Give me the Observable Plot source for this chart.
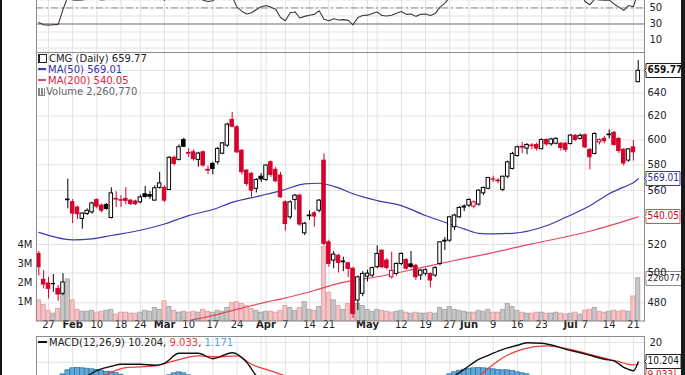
<!DOCTYPE html>
<html><head><meta charset="utf-8">
<script src="https://cdn.jsdelivr.net/npm/d3@7"></script>
<script src="https://cdn.jsdelivr.net/npm/@observablehq/plot@0.6"></script>
<style>
body{margin:0;background:#fff;}
#chart{position:relative;width:685px;height:375px;overflow:hidden;background:#fff;font-family:'DejaVu Sans',Verdana,sans-serif;}
.lg{position:absolute;font-size:10px;line-height:11px;white-space:nowrap;}
.dash{display:inline-block;width:8px;height:2px;vertical-align:middle;margin-right:2px;position:relative;top:-1px;}
</style></head><body>
<div id="chart"></div>
<script>
// ---------- DATA (trading-day index 0 = 23 Jan, 124 = 22 Jul) ----------
const opens = [513.3,495.4,492.9,492.4,489.3,486,553,551,547,538.5, 542.2,543.4,552.7,548.4,548.8,539.2,553.5,552.5,553.5,552.2, 551.5,550.9,557,556.4,552.2,561.9,561.9,560.3,585.6,583.9, 600,589.5,590,583.9,590,576,580.7,582,588.9,595.4, 616.8,610.6,591.3,575.4,572.8,561.2,570.6,568.1,582,576, 571.5,550.9,539.7,552.7,556,528,540.5,542.6,544.6,583.3, 521.5,508.6,512,507.5,506.8,503,481.5,486,497.5,498.3, 504,515.6,508.6,497.1,499.4,506.3,509,506,505,498.3, 499.5,499.4,498.3,506.3,522,522.7,532.4,539.7,547,548.4, 547.7,549.2,557.7,561.2,568.5,567.5,560.4,570.6,576.7,587, 594.5,593,595.5,596,592.5,600,596.5,597,597,597, 596.7,603.5,601,604,592,588.7,598,601,604,606, 601,592,583.3,594,649.5];
const highs = [515,501.7,497,499,491.5,499.6,568.8,553,548,543, 546,551,553.5,549.5,550,562,559,556,562,553, 552.5,556.4,563,559,563.6,574.1,563.6,586.5,587,596, 601.5,593,592,590,591,579,582,594,598,614, 623.2,612,592,576,574,569,573,580,583,578, 574,552,552,557,557,536,544.6,544,553,588.7, 523,515,513,511,507,504,498,501,502,504, 519,516,510,514.5,507,514,510,515,506,502.5, 503,500,504.5,522,525,540.5,542,547.7,549,553.5, 552,560.5,562.5,570,571,569,571,583,590,595, 598,597,597,597.5,601,601,601.5,602,598,598, 604.5,604.5,605,605,593,606,601,603,608.4,607, 602,593,593,599.6,669];
const lows = [498,489.3,482.6,487,481,484.8,546,535,538,531, 541,542,546,543,545,538.5,547,547,549,548.5, 548.5,549.7,554,553,552,561,550.9,559.8,579,583, 594,586,583,578,578,572.3,572,580,588,594, 610,589,572,563,554.7,558,566,567,570,566, 554,529.5,538,545,533,526.4,537.3,532.4,543,519, 504,503,500,501,497,470,475,484,494,497, 503,503,502,496,498,505,502,503,495,494.9, 498,490,497,505,515.6,521.5,530,539,544,547, 546,548,556,560.5,566,565,559,569,576,586, 589,588,592,591,592,595,595,596,591,590, 596,599,600,593,575.9,588,596,597,601,595, 589,579,582,583,649];
const closes = [504,492.2,489.3,492.6,485.5,493.6,552.5,542.5,542,542.5, 544.6,550.1,547.7,544.6,545.9,557.7,553,552.2,552,549.7, 549.5,554.6,555,555.2,561.6,565.4,552.2,585.6,580.7,594.1, 594.5,588.9,584.6,589,579.4,575.4,576.7,592.7,597.3,612.8, 611.1,590,574.1,565,559.8,568.1,568.5,579.4,572,567, 554.7,534.8,550.9,556,534.4,535,541,540.3,552.2,520.4, 506.3,512.8,507,508,502.9,472.8,497.1,499.4,499.6,503.4, 513.3,504,503.5,501.5,506.3,513.3,503,504.2,497.1,501.7, 502,494.9,503.4,521.5,522.7,539.7,541,546.7,547.7,552.7, 550.9,559.8,561.9,569.6,568.3,567,570.6,582,588.7,594.1, 593.8,596,595,593,600,596.5,600.5,601,593.5,592, 603.7,600,603.5,594,586,605,600,599,604.5,596, 591,581,592.4,590,659.77];
const prevClose0 = 516;
// volume, millions
const volumes = [1.1,0.85,0.55,0.4,0.65,1.4,2.2,1.1,0.6,0.5, 0.5,0.55,0.45,0.5,0.55,0.6,0.35,0.45,0.45,0.4, 0.4,0.45,0.55,0.5,0.7,0.6,1.05,0.75,0.55,0.45, 0.5,0.45,0.5,0.45,0.6,0.5,0.45,0.55,0.5,0.7, 0.95,1.0,0.9,0.8,0.65,0.55,0.45,0.5,0.5,0.45, 0.55,0.8,0.7,0.55,0.7,1.0,0.6,0.55,0.75,3.9, 1.5,1.1,0.8,0.6,0.9,1.3,0.9,0.8,0.6,0.5, 0.6,0.55,0.5,0.45,0.5,0.55,0.45,0.4,0.45,0.4, 0.4,0.45,0.4,0.7,0.6,0.75,0.6,0.55,0.5,0.45, 0.45,0.55,0.5,0.6,0.45,0.45,0.6,0.9,0.75,0.55, 0.45,0.4,0.4,0.45,0.45,0.4,0.4,0.45,0.4,0.35, 0.4,0.45,0.35,0.55,0.6,0.7,0.5,0.45,0.5,0.55, 0.5,0.55,0.5,1.3,2.26077];

const ma50Idx = [0,7,11,15,21,26,31,36,40,46,50,55,58,62,65,70,75,80,85,88,91,94,98,105,109,114,118,122,123,124];
const ma50Val = [528.7,523.3,524,526.4,530.2,534.8,541,545.5,550.9,556,559.6,565,565.5,561.9,557.4,552.2,548.4,541,534.8,531.2,528,527.6,528,533.5,539.7,548.4,557.4,564.2,565.9,569.01];
const ma200Idx = [20,35,42,47,50,57,62,71,78,85,91,102,114,123,124];
const ma200Val = [462,471,476.5,480.5,482.5,488.2,493,498,502.9,508,512.1,520.4,529.5,538.9,540.05];

const rsiVal = [32,29,28.5,29,29.5,48,64,60,59.5,60, 61,63,61,60,60.5,65,63,62.5,62,61, 61,63,63,63,66,67,59.5,69,66,70, 70,64,62,64,59.5,58,59,64,66,71, 64,51,46,42.5,44,48,51.5,53,51,48.5, 38,34,44,45,37.5,39.5,41,42,46.5,36, 34,36.5,35,35.5,34.5,29,38,40.5,41,43, 45,40.5,40,41,43.5,45.5,42,42.5,39.5,42, 42.5,40.5,43,51,56,63,65,67,67,69, 67,71,72,75,74,73,74,77,78,80, 79,79,78,76,78,75,76,76,72,71, 74,71,72,58,54,61,60,59.5,60,55, 51,47,53,51.5,70];

const macdIdx = [0,5,8,10,12,15,17,21,24,26,29,33,36,40,43,45,48,55,60,66,75,80,84,86,88,91,93,96,99,101,104,107,109,112,114,117,119,120,121,122,123,124];
const macdVal = [-4,-2,1,3.2,5.8,8,9,9,8.5,9.5,14.5,14.5,11.8,14.8,10,3.2,-2,-6,-9,-14,-12,-9,0,3.2,6.5,11.5,13.5,16.5,18.5,19.8,19.5,18,16.5,14.8,13.5,11.5,10.7,9.2,7.5,6.5,5.8,10.204];
const sigIdx = [0,6,10,13,18,24,28,33,37,41,44,48,51,55,60,70,80,88,91,93,96,100,105,109,114,118,120,122,123,124];
const sigVal = [-3,-2,1.5,3.2,7.3,8.2,10.7,13.2,12.7,13.2,9,5.7,3.2,0,-4,-9,-9,-2,3,7,12.3,16.5,18.2,17,14,11.5,10.3,9.0,8.7,9.033];
const histIdx = [4,5,6,7,8,9,10,11,12,13,14,15,16,17,18,19,20, 27,28,29,30,31,32, 84,85,86,87,88,89,90,91,92,93,94,95,96,97,98,99,100,101,102,103,104];
const histVal = [1.5,4,6,7,7.2,7,6.8,6.5,6.2,5.8,5.2,5.3,4.6,3.8,3,2.2,1.5, 3.5,4.5,5,4.5,3.5,2.5, 2.5,4,5,5.8,6.3,6.8,7,7.2,7,6.8,6.5,6.2,6,6,5.6,5,4.5,4,3.2,2.5,1.5];

const weekStarts = [2,7,12,17,21,26,31,36,41,46,47,51,56,60,65,68,70,75,80,85,89,94,99,104,109,110,113,118,123];
const tickIdx = [2,7,12,17,21,26,31,36,41,47,51,56,60,68,75,80,85,89,94,99,104,110,113,118,123];
const tickLabels = ["27","Feb","10","18","24","Mar","10","17","24","Apr","7","14","21","May","12","19","27","Jun","9","16","23","Jul","7","14","21"];
const monthLabels = ["Feb","Mar","Apr","May","Jun","Jul"];
const priceTicks = [480,500,520,540,560,580,600,620,640,660];
const priceLabels = [480,500,520,560,580,600,620,640];
const volTicks = [1,2,3,4];
const rsiGrid = [0,10,20,30,40,50,60,70,80,90,100];
const rsiLabels = [10,30,50];

// ---------- BUILD ----------
const FONT = "'DejaVu Sans', Verdana, sans-serif";
const TIPFONT = "'DejaVu Sans Condensed', 'Liberation Sans', Arial, sans-serif";
const W = 685, mL = 36, mR = 41;
const xDomain = [-0.48, 125.3];
const RED = "#d6002b", BLK = "#000";
const FRAME = "#8c8c8c", GRID = "#e2e2e2";

const candles = closes.map((c, i) => {
  const pc = i === 0 ? prevClose0 : closes[i - 1];
  const col = c < pc ? RED : BLK;
  return {i, o: opens[i], h: highs[i], l: lows[i], c, col, fill: c > opens[i] ? "#fff" : col,
          v: volumes[i], vf: c < pc ? "#f3c3c5" : "#c6c6c6", vs: c < pc ? "#e39aa0" : "#a2a2a2"};
});
const ma50 = ma50Idx.map((i, k) => ({i, v: ma50Val[k]}));
const ma200 = ma200Idx.map((i, k) => ({i, v: ma200Val[k]}));
const rsi = rsiVal.map((v, i) => ({i, v}));
const macd = macdIdx.map((i, k) => ({i, v: macdVal[k]}));
const sig = sigIdx.map((i, k) => ({i, v: sigVal[k]}));
const hist = histIdx.map((i, k) => ({i, v: histVal[k]}));
const ticks = tickIdx.map((i, k) => ({i, t: tickLabels[k], m: monthLabels.includes(tickLabels[k])}));

const chart = document.getElementById("chart");
function place(el, top) {
  el.style.position = "absolute"; el.style.left = "0px"; el.style.top = top + "px";
  chart.appendChild(el); return el;
}
const base = {
  width: W, marginLeft: mL, marginRight: mR,
  x: {domain: xDomain, axis: null},
  color: {type: "identity"},
  style: {background: "transparent", fontFamily: FONT, fontSize: "10px", color: "#222", overflow: "visible"}
};
function colorTips(svg, colors) {
  svg.querySelectorAll('g[aria-label="tip"]').forEach((g, k) => { if (colors[k]) g.style.color = colors[k]; });
}
const tipOpts = (stroke, extra = {}) => ({
  x: () => xDomain[1], y: "v", title: "t", anchor: "left", fill: "white", stroke,
  pathFilter: "none", pointerSize: 3, textPadding: 1.5, fontSize: 10, fontFamily: TIPFONT, lineHeight: 1, ...extra
});

// RSI panel (top part cropped)
place(Plot.plot({
  ...base, height: 92, marginTop: 7.3, marginBottom: 0,
  y: {domain: [-5.5, 100], axis: null},
  marks: [
    Plot.ruleY(rsiGrid, {stroke: GRID}),
    Plot.ruleX(weekStarts, {stroke: GRID}),
    Plot.ruleY([50], {stroke: "#8a8a8a", strokeDasharray: "7,3,2,3"}),
    Plot.ruleY([30], {stroke: "#777"}),
    Plot.areaY(rsi.slice(0, 6), {x: "i", y1: 30, y2: d => Math.min(d.v, 30), fill: "#e06a6a", fillOpacity: 0.55}),
    Plot.line(rsi, {x: "i", y: "v", stroke: "#3a3a3a", strokeWidth: 1.1}),
    Plot.axisY({anchor: "right", ticks: rsiLabels, tickSize: 0, tickPadding: 5, fontSize: 10, label: null}),
    Plot.frame({stroke: FRAME})
  ]
}), -40);

const priceY = {type: "log", domain: [468.2, 676.5], axis: null};
// price grid layer
place(Plot.plot({
  ...base, height: 283, marginTop: 0, marginBottom: 14.5, y: priceY,
  marks: [Plot.ruleY(priceTicks, {stroke: GRID}), Plot.ruleX(weekStarts, {stroke: GRID})]
}), 52);

// volume layer
const volSvg = place(Plot.plot({
  ...base, height: 283, marginTop: 0, marginBottom: 14.3,
  y: {domain: [0, 14.14], axis: null},
  marks: [
    Plot.rect(candles, {x1: d => d.i - 0.43, x2: d => d.i + 0.43, y1: 0, y2: "v", fill: "vf", stroke: "vs", strokeWidth: 0.8}),
    Plot.axisY({anchor: "left", ticks: volTicks, tickFormat: d => d + "M", tickSize: 0, tickPadding: 4, fontSize: 10, label: null}),
    Plot.tip([{v: volumes[volumes.length - 1], t: String(Math.round(volumes[volumes.length - 1] * 1e6))}], tipOpts("#8a8a8a", {fontSize: 9.5}))
  ]
}), 52);
colorTips(volSvg, ["#333"]);

// price marks layer
const priceSvg = place(Plot.plot({
  ...base, height: 283, marginTop: 0, marginBottom: 14.5, y: priceY,
  marks: [
    Plot.line(ma200, {x: "i", y: "v", stroke: "#e8465e", strokeWidth: 1.2, curve: "monotone-x", clip: true}),
    Plot.line(ma50, {x: "i", y: "v", stroke: "#3b3bb0", strokeWidth: 1.2, curve: "monotone-x", clip: true}),
    Plot.ruleX(candles, {x: "i", y1: "l", y2: "h", stroke: "col", strokeWidth: 1}),
    Plot.rect(candles, {x1: d => d.i - 0.36, x2: d => d.i + 0.36, y1: "o", y2: "c", fill: "fill", stroke: "col", strokeWidth: 1}),
    Plot.axisY({anchor: "right", ticks: priceLabels, tickFormat: d3.format("d"), tickSize: 0, tickPadding: 3, fontSize: 10, label: null}),
    Plot.text(ticks.filter(d => !d.m), {x: "i", text: "t", frameAnchor: "bottom", dy: 7, fontSize: 10, fill: "#222"}),
    Plot.text(ticks.filter(d => d.m), {x: "i", text: "t", frameAnchor: "bottom", dy: 7, fontSize: 10, fontWeight: "bold", fill: "#222"}),
    Plot.frame({stroke: FRAME}),
    Plot.tip([{v: ma200Val[ma200Val.length - 1], t: ma200Val[ma200Val.length - 1].toFixed(2)}], tipOpts("#e8465e")),
    Plot.tip([{v: ma50Val[ma50Val.length - 1], t: ma50Val[ma50Val.length - 1].toFixed(2)}], tipOpts("#3b3bb0")),
    Plot.tip([{v: closes[closes.length - 1], t: closes[closes.length - 1].toFixed(2)}], tipOpts("#222", {fontWeight: "bold"}))
  ]
}), 52);
colorTips(priceSvg, ["#b0102a", "#2a2a90", "#111"]);

// MACD panel (bottom cropped)
const macdSvg = place(Plot.plot({
  ...base, height: 70, marginTop: 0, marginBottom: 0,
  y: {domain: [-12.1, 22.9], axis: null},
  marks: [
    Plot.ruleY([10, 20], {stroke: GRID}),
    Plot.ruleX(weekStarts, {stroke: GRID}),
    Plot.rect(hist, {x1: d => d.i - 0.5, x2: d => d.i + 0.5, y1: 0, y2: "v", fill: "#5fa8d8", stroke: "#2e6f9e", strokeWidth: 0.7}),
    Plot.line(sig, {x: "i", y: "v", stroke: "#f03a3a", strokeWidth: 1.2, curve: "monotone-x"}),
    Plot.line(macd, {x: "i", y: "v", stroke: "#111", strokeWidth: 1.4, curve: "monotone-x"}),
    Plot.axisY({anchor: "right", ticks: [20], tickSize: 0, tickPadding: 5, fontSize: 10, label: null}),
    Plot.frame({stroke: FRAME}),
    Plot.tip([{v: 9.033, t: "9.033"}], tipOpts("#f03a3a", {dy: 11})),
    Plot.tip([{v: 10.204, t: "10.204"}], tipOpts("#222"))
  ]
}), 335.5);
colorTips(macdSvg, ["#d02020", "#111"]);

// legends (HTML text)
function legend(top, left, html) {
  const d = document.createElement("div"); d.className = "lg";
  d.style.top = top + "px"; d.style.left = left + "px"; d.innerHTML = html; chart.appendChild(d);
}
legend(53, 38, '<span style="display:inline-block;width:6px;height:7px;border:1px solid #222;border-left-width:2px;margin-right:2px;vertical-align:-1px"></span><span style="color:#222">CMG (Daily) 659.77</span>');
legend(64, 38, '<span class="dash" style="background:#3b3bb0"></span><span style="color:#3434a8">MA(50) 569.01</span>');
legend(75, 38, '<span class="dash" style="background:#e8465e"></span><span style="color:#e0203e">MA(200) 540.05</span>');
legend(86, 38, '<span style="display:inline-block;width:7px;height:7px;border-bottom:1px solid #888;background:linear-gradient(90deg,#888 0 2px,transparent 2px 3px,#888 3px 5px,transparent 5px 6px,#888 6px 7px);margin-right:1px;vertical-align:-1px"></span><span style="color:#666">Volume 2,260,770</span>');
legend(336.5, 38, '<span class="dash" style="background:#111;width:9px"></span><span style="color:#222">MACD(12,26,9) 10.204, </span><span style="color:#f03a3a">9.033</span><span style="color:#222">, </span><span style="color:#4aa3df">1.171</span>');

// dark outer frame edges
const edgeL = document.createElement("div");
edgeL.style.cssText = "position:absolute;left:0;top:0;width:2px;height:375px;background:#111";
chart.appendChild(edgeL);
const edgeR = document.createElement("div");
edgeR.style.cssText = "position:absolute;left:681px;top:0;width:4px;height:375px;background:#1a1a1a";
chart.appendChild(edgeR);
</script>
</body></html>
